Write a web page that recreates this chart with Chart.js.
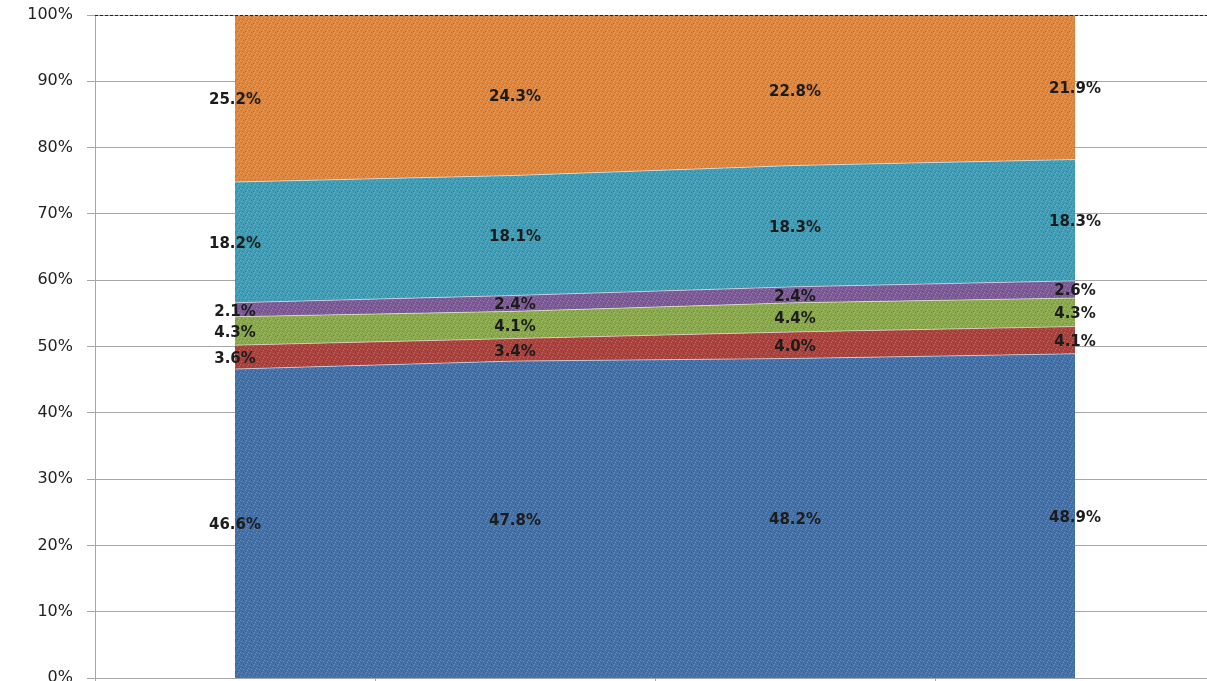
<!DOCTYPE html>
<html>
<head>
<meta charset="utf-8">
<script src="https://cdn.jsdelivr.net/npm/chart.js@4.4.1/dist/chart.umd.min.js"></script>
<style>
  html, body { margin: 0; padding: 0; background: #ffffff; }
  #wrap { position: relative; width: 1207px; height: 681px; }
</style>
</head>
<body>
<div id="wrap"><canvas id="c" width="1207" height="681"></canvas></div>
<script>
// ---- data ----
const categories = ['1', '2', '3', '4'];
const seriesNames = ['S1', 'S2', 'S3', 'S4', 'S5', 'S6'];
const s1 = [46.6, 47.8, 48.2, 48.9];
const s2 = [3.6, 3.4, 4.0, 4.1];
const s3 = [4.3, 4.1, 4.4, 4.3];
const s4 = [2.1, 2.4, 2.4, 2.6];
const s5 = [18.2, 18.1, 18.3, 18.3];
const s6 = [25.2, 24.3, 22.8, 21.9];
const yTicks = [0, 10, 20, 30, 40, 50, 60, 70, 80, 90, 100];

const seriesValues = [s1, s2, s3, s4, s5, s6];
const colors = ['#4470a8', '#a9413d', '#89a84b', '#7b5a95', '#3f9cb4', '#de853d'];

// subtle speckled texture like the reference fill
const lightDots = [[1,1],[5,2],[3,5],[7,6],[0,4],[6,0]];
const darkDots = [[3,0],[7,3],[1,6],[5,7],[2,3]];
function texture(color) {
  const p = document.createElement('canvas');
  p.width = 8; p.height = 8;
  const g = p.getContext('2d');
  g.fillStyle = color; g.fillRect(0, 0, 8, 8);
  g.fillStyle = 'rgba(255,255,255,0.22)';
  lightDots.forEach(([x, y]) => g.fillRect(x, y, 1, 1));
  g.fillStyle = 'rgba(40,40,110,0.18)';
  darkDots.forEach(([x, y]) => g.fillRect(x, y, 1, 1));
  return document.getElementById('c').getContext('2d').createPattern(p, 'repeat');
}

const datasets = seriesValues.map((vals, i) => ({
  label: seriesNames[i],
  data: vals.map((v, j) => ({ x: j, y: v })),
  backgroundColor: texture(colors[i]),
  borderColor: 'rgba(255,255,255,0.5)',
  borderWidth: 1,
  pointRadius: 0,
  tension: 0,
  fill: i === 0 ? 'origin' : '-1'
}));

const labelPlugin = {
  id: 'bandLabels',
  afterDatasetsDraw(chart) {
    const ctx = chart.ctx;
    const xs = chart.scales.x, ys = chart.scales.y;
    ctx.save();
    ctx.font = 'bold 15px "DejaVu Sans", Verdana, sans-serif';
    ctx.fillStyle = '#1c1c1c';
    ctx.textAlign = 'center';
    ctx.textBaseline = 'middle';
    categories.forEach((c, j) => {
      let base = 0;
      seriesValues.forEach((vals) => {
        const v = vals[j];
        const mid = Math.min(base + v / 2, 100);
        ctx.fillText(v.toFixed(1) + '%', xs.getPixelForValue(j), ys.getPixelForValue(mid) + 2);
        base += v;
      });
    });
    // top dashed line at 100%
    const y = Math.round(ys.getPixelForValue(100)) + 0.5;
    ctx.strokeStyle = '#222';
    ctx.lineWidth = 1;
    ctx.setLineDash([3, 2]);
    ctx.beginPath();
    ctx.moveTo(chart.chartArea.left, y);
    ctx.lineTo(chart.chartArea.right, y);
    ctx.stroke();
    ctx.restore();
  }
};

new Chart(document.getElementById('c'), {
  type: 'line',
  data: { datasets },
  options: {
    responsive: false,
    animation: false,
    events: [],
    layout: { padding: { top: 15, right: 0, bottom: 0, left: 0 } },
    plugins: { legend: { display: false }, tooltip: { enabled: false } },
    scales: {
      x: {
        type: 'linear',
        min: -0.5,
        max: 3.5 - 8 / 280,
        afterBuildTicks(scale) {
          scale.ticks = [-0.5, 0.5, 1.5, 2.5].map(v => ({ value: v }));
        },
        afterFit(scale) { scale.height = 3; scale.paddingLeft = 0; scale.paddingRight = 0; },
        ticks: { display: false },
        grid: { drawOnChartArea: false, drawTicks: true, tickLength: 4, color: '#a6a6a6', tickColor: '#a6a6a6' },
        border: { display: true, color: '#a6a6a6', width: 1 }
      },
      y: {
        stacked: true,
        min: 0,
        max: 100,
        afterBuildTicks(scale) {
          scale.ticks = yTicks.map(v => ({ value: v }));
        },
        afterFit(scale) { scale.width = 95; scale.paddingTop = 0; scale.paddingBottom = 0; },
        ticks: {
          callback: v => v + '%',
          font: { family: '"DejaVu Sans", Verdana, sans-serif', size: 16 },
          color: '#222222',
          padding: 14
        },
        grid: { color: '#a6a6a6', lineWidth: 1, tickLength: 8, tickColor: '#a6a6a6' },
        border: { display: true, color: '#a6a6a6', width: 1 }
      }
    }
  },
  plugins: [labelPlugin]
});
</script>
</body>
</html>
